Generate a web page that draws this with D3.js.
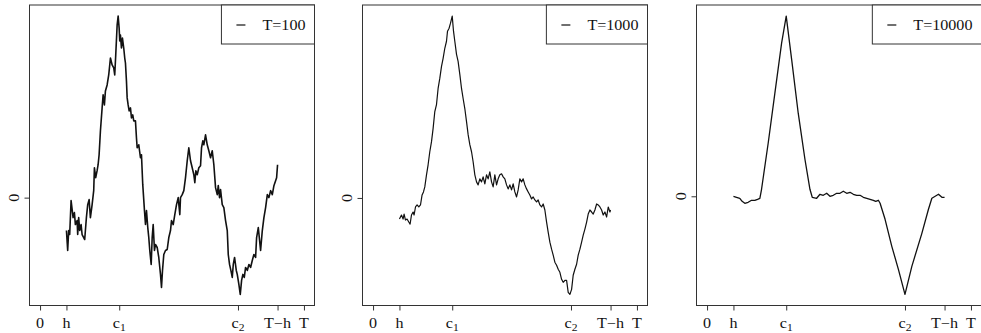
<!DOCTYPE html>
<html><head><meta charset="utf-8">
<script src="https://cdn.jsdelivr.net/npm/d3@7"></script>
<style>
html,body{margin:0;padding:0;background:#fff;}
svg{display:block;}
text{font-family:"Liberation Serif","Times New Roman",serif;fill:#111;}
</style></head>
<body>
<svg id="chart" width="981" height="333"></svg>
<script>
// ---- data ----
const periods = [100, 1000, 10000];
const legendLabels = ["T=100", "T=1000", "T=10000"];
const tickFractions = [0, 0.1, 0.3, 0.75, 0.9, 1];
const tickLabels = [["0"], ["h"], ["c", "1"], ["c", "2"], ["T\u2212h"], ["T"]];
const yTickValues = [0];
const yTickLabels = ["0"];

const p1T = [10,10.47,10.85,11.23,11.76,12.52,13.01,13.39,14.04,14.26,14.64,15.02,15.55,15.93,16.54,16.92,17.56,18.06,18.59,19.08,19.73,20.33,20.6,21.09,21.62,22,22.38,22.88,23.52,23.9,24.39,24.77,25.42,26.02,26.67,27.31,27.92,28.3,28.68,29.21,29.59,29.97,30.2,30.46,30.84,31.22,31.71,32.09,32.36,32.74,33.01,33.38,33.76,34.26,34.64,35.13,35.51,36.15,36.53,36.8,37.41,38.05,38.43,38.92,39.57,39.95,40.33,40.82,41.2,41.58,42.11,42.49,42.87,43.36,43.74,44.39,44.99,45.64,46.02,46.4,46.89,47.53,48.18,48.79,49.43,49.81,50.46,51.06,51.71,52.35,52.96,53.22,53.87,54.48,55.12,55.77,56.37,57.02,57.66,58.27,58.65,59.03,59.56,60.17,60.81,61.19,61.68,62.06,62.71,63.35,63.96,64.61,65.25,65.86,66.5,67.15,67.53,68.02,68.4,69.04,69.65,70.3,70.94,71.32,71.81,72.31,72.84,73.22,73.71,74.36,74.73,75.34,75.87,76.37,76.86,77.39,77.88,78.53,79.14,79.78,80.42,81.03,81.68,82.06,82.7,83.08,83.57,84.22,84.83,85.47,86.12,86.72,87.37,88.01,88.62,89.26,89.64,90];
const p1Y = [-0.33,-0.53,-0.33,-0.37,-0.03,-0.2,-0.15,-0.27,-0.23,-0.37,-0.2,-0.33,-0.27,-0.37,-0.4,-0.42,-0.2,-0.07,-0.02,-0.2,-0.07,0.07,0.3,0.2,0.27,0.33,0.43,0.67,0.9,1.03,0.93,1.07,1.13,1.23,1.4,1.33,1.3,1.23,1.43,1.73,1.82,1.7,1.57,1.63,1.5,1.6,1.5,1.4,1.35,1.17,1,0.93,0.87,0.9,0.8,0.83,0.77,0.77,0.6,0.5,0.53,0.4,0.43,0.13,-0.13,-0.27,-0.13,-0.3,-0.4,-0.53,-0.67,-0.4,-0.27,-0.53,-0.47,-0.5,-0.6,-0.77,-0.9,-0.73,-0.57,-0.53,-0.52,-0.4,-0.33,-0.23,-0.27,-0.17,-0.07,0,-0.17,0,0.03,0.07,0.2,0.37,0.5,0.37,0.3,0.23,0.15,0.27,0.23,0.3,0.32,0.5,0.57,0.53,0.63,0.53,0.47,0.4,0.47,0.33,0.1,0.03,0.12,0,0.08,-0.07,-0.1,-0.23,-0.33,-0.57,-0.67,-0.73,-0.8,-0.67,-0.6,-0.73,-0.77,-0.87,-0.97,-0.83,-0.77,-0.8,-0.7,-0.73,-0.67,-0.7,-0.63,-0.57,-0.6,-0.4,-0.3,-0.4,-0.53,-0.33,-0.2,-0.1,0.03,0,0.07,0.03,0.12,0.17,0.2,0.33];

const p2T = [100,107.7,113.8,117.6,122.9,128.9,135.4,140.3,145.6,151.7,155.5,160.8,166.9,173.3,179.7,185.8,191.1,196.1,202.5,208.6,215,221.5,227.5,234,240.4,246.5,252.9,259.4,265.5,271.9,278.3,282.1,288.2,293.5,300,304.9,309.8,316.3,322.3,328.8,335.2,341.3,347.7,354.2,360.3,366.7,373.2,379.2,385.7,392.1,398.2,404.6,411.1,417.1,423.6,430,436.1,442.5,449,455.1,461.5,468,474,480.5,486.9,493,499.4,505.9,511.9,518.4,524.8,530.9,537.4,543.8,549.9,556.3,562.8,568.8,575.3,581.7,587.8,594.2,600.7,606.8,613.2,619.6,625.7,632.2,638.6,644.7,651.1,657.6,663.6,670.1,676.5,682.6,689,695.5,701.6,708,714.4,720.5,727,733.4,739.5,745.9,752.4,758.4,764.9,771.3,777.4,783.9,790.3,796.4,802.8,809.3,815.3,821.8,828.2,834.3,840.7,847.2,853.2,859.7,866.1,872.2,878.7,885.1,891.2,897.6,900];
const p2Y = [-0.21,-0.17,-0.21,-0.16,-0.22,-0.21,-0.24,-0.26,-0.17,-0.14,-0.17,-0.09,-0.07,-0.09,-0.07,0.03,0.06,0.11,0.23,0.33,0.46,0.56,0.69,0.86,0.93,1.09,1.19,1.31,1.39,1.49,1.56,1.66,1.69,1.74,1.81,1.66,1.56,1.43,1.36,1.23,1.09,0.99,0.89,0.76,0.63,0.53,0.46,0.36,0.23,0.16,0.13,0.19,0.16,0.21,0.14,0.23,0.19,0.26,0.16,0.11,0.23,0.13,0.19,0.23,0.24,0.21,0.19,0.13,0.09,0.13,0.08,0.14,0.06,0.01,0.08,0.19,0.16,0.19,0.13,0.09,0.06,0.03,-0.01,0.01,-0.02,-0.04,-0.02,-0.07,-0.09,-0.06,-0.12,-0.24,-0.34,-0.44,-0.51,-0.57,-0.64,-0.67,-0.71,-0.74,-0.81,-0.84,-0.82,-0.82,-0.94,-0.96,-0.91,-0.77,-0.71,-0.66,-0.57,-0.51,-0.44,-0.37,-0.31,-0.24,-0.16,-0.12,-0.14,-0.16,-0.12,-0.06,-0.07,-0.09,-0.12,-0.17,-0.14,-0.19,-0.09,-0.14,-0.12];

const p3T = [1000,1116,1241,1329,1431,1557,1686,1811,1913,2001,2065,2316,2570,2825,3000,3204,3455,3709,3899,3986,4153,4279,4404,4533,4658,4784,4913,5038,5163,5292,5418,5543,5672,5797,5923,6052,6177,6302,6393,6492,6557,6746,7001,7251,7500,7760,8140,8390,8519,8645,8770,8899,9000];
const p3Y = [0,-0.01,-0.02,-0.05,-0.07,-0.06,-0.04,-0.04,-0.03,-0.02,0.07,0.53,1.03,1.53,1.8,1.37,0.83,0.37,0.07,-0.01,-0.02,0.02,0.01,0.03,0,0.01,0.03,0.03,0.05,0.03,0.04,0.02,0.01,0.01,-0.01,-0.02,-0.03,-0.04,-0.05,-0.04,-0.07,-0.23,-0.5,-0.73,-0.98,-0.7,-0.37,-0.13,-0.02,0,0.02,-0.01,-0.01];

const seriesT = [p1T, p2T, p3T];
const seriesY = [p1Y, p2Y, p3Y];

// ---- layout ----
const panelLefts = [29.5, 362.5, 696.5];
const panelW = 285, panelTop = 5, panelH = 300.5;
const fontSize = 14, stretch = 1.15;
const strokeWidths = [1.6, 1.2, 1.3];

const svg = d3.select("#chart");

periods.forEach((T, i) => {
  const left = panelLefts[i], right = left + panelW;
  const top = panelTop, bottom = top + panelH;
  const ts = seriesT[i], ys = seriesY[i];
  const n = Math.min(ts.length, ys.length);
  const pts = d3.range(n).map(k => [ts[k], ys[k]]);

  const x = d3.scaleLinear().domain([-0.04 * T, 1.04 * T]).range([left, right]);
  const [ymin, ymax] = d3.extent(ys);
  const pad = (ymax - ymin) * 0.04;
  const y = d3.scaleLinear().domain([ymin - pad, ymax + pad]).range([bottom, top]);

  const g = svg.append("g");

  // curve
  g.append("path")
    .datum(pts)
    .attr("fill", "none")
    .attr("stroke", "#111")
    .attr("stroke-width", strokeWidths[i])
    .attr("stroke-linejoin", "round")
    .attr("d", d3.line().x(d => x(d[0])).y(d => y(d[1])));

  // box
  g.append("rect")
    .attr("x", left).attr("y", top)
    .attr("width", panelW).attr("height", panelH)
    .attr("fill", "none").attr("stroke", "#333").attr("stroke-width", 1);

  // x axis
  const tickVals = tickFractions.map(f => f * T);
  const xAxis = g.append("g")
    .attr("transform", `translate(0,${bottom})`)
    .call(d3.axisBottom(x).tickValues(tickVals).tickSize(5).tickFormat(""));
  xAxis.select(".domain").remove();
  xAxis.selectAll(".tick line").attr("stroke", "#333");

  tickVals.forEach((v, k) => {
    const lab = tickLabels[k];
    const t = g.append("text")
      .attr("transform", `translate(${x(v)},${bottom + 22}) scale(${stretch},1)`)
      .attr("text-anchor", "middle")
      .attr("font-size", fontSize);
    t.append("tspan").text(lab[0]);
    if (lab.length > 1) {
      t.append("tspan").attr("dy", 3).attr("font-size", fontSize * 0.72).text(lab[1]);
    }
  });

  // y axis
  const yAxis = g.append("g")
    .attr("transform", `translate(${left},0)`)
    .call(d3.axisLeft(y).tickValues(yTickValues).tickSize(5).tickFormat(""));
  yAxis.select(".domain").remove();
  yAxis.selectAll(".tick line").attr("stroke", "#333");
  yTickValues.forEach((v, k) => {
    g.append("text")
      .attr("transform", `translate(${left - 11},${y(v)}) rotate(-90) scale(${stretch},1)`)
      .attr("text-anchor", "middle")
      .attr("font-size", fontSize)
      .text(yTickLabels[k]);
  });

  // legend
  const lg = g.append("g");
  const lt = lg.append("text")
    .attr("font-size", fontSize)
    .text(legendLabels[i]);
  const tw = lt.node().getComputedTextLength() * stretch;
  const boxW = tw + 50;
  const boxL = right - boxW;
  lg.insert("rect", "text")
    .attr("x", boxL).attr("y", top)
    .attr("width", boxW).attr("height", 39)
    .attr("fill", "#fff").attr("stroke", "#333").attr("stroke-width", 1);
  lg.append("line")
    .attr("x1", boxL + 15).attr("x2", boxL + 24)
    .attr("y1", top + 20).attr("y2", top + 20)
    .attr("stroke", "#111").attr("stroke-width", 1.2);
  lt.attr("transform", `translate(${right - 9 - tw},${top + 25}) scale(${stretch},1)`);
});
</script>
</body></html>
